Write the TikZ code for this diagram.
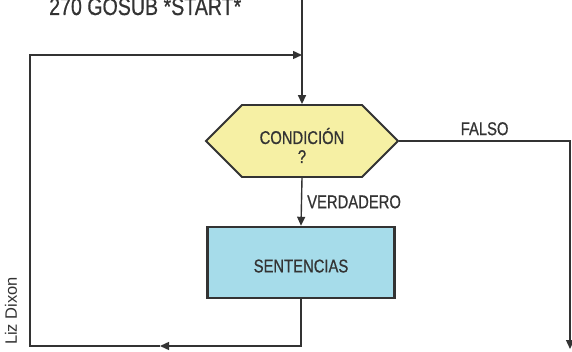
\documentclass[tikz,border=0pt]{standalone}
\usepackage{fontspec}
\setmainfont{Liberation Sans}[FakeStretch=0.8,FakeBold=0.6]
\newfontfamily\creditfont{Liberation Sans}
\usetikzlibrary{arrows.meta,shapes.symbols}
\definecolor{ink}{HTML}{333333}
\definecolor{condfill}{HTML}{F6F0A4}
\definecolor{sentfill}{HTML}{A6DCEA}
\begin{document}
\begin{tikzpicture}[
    x=1pt,
    y=-1pt,
    flow/.style={draw=ink,line width=1.4pt,-{Triangle[length=9pt,width=8pt]}},
    txt/.style={text=ink,font=\fontsize{18.5}{19}\selectfont,inner sep=1pt}
  ]
  \useasboundingbox (0,0) rectangle (572,352);

  \node[txt,font=\fontsize{24.5}{25}\selectfont,anchor=base west]
  (code) at (48,15) {270 GOSUB *START*};
  \node[txt,font=\creditfont\fontsize{16.5}{17}\selectfont,rotate=90]
  (credit) at (11,311) {Liz Dixon};

  \node[txt,signal,signal to=west and east,signal pointer angle=90,
    draw=ink,line width=1.8pt,fill=condfill,align=center,
    minimum width=192pt,minimum height=72pt]
  (cond) at (302,141) {\rule{0pt}{25pt}CONDICIÓN\\?};
  \node[txt,draw=ink,line width=2.4pt,fill=sentfill,
    minimum width=187pt,minimum height=71pt]
  (sent) at (301,262.5) {\rule{0pt}{20pt}SENTENCIAS};

  \coordinate (top) at (302,0);
  \coordinate (join) at (302,55);
  \coordinate (back) at (160,346);
  \coordinate (corner) at (30,346);
  \coordinate (fend) at (570,349);

  \draw[flow] (top) -- (cond.north);
  \draw[flow] (cond.south) -- node[txt,right=4pt] {VERDADERO} (sent.north);
  \draw[flow] (sent.south) |- (back);
  \draw[flow] (back) -- (corner) |- (join);
  \draw[flow] (cond.east) -| node[txt,pos=0.25,above=4pt] {FALSO} (fend);
\end{tikzpicture}
\end{document}
